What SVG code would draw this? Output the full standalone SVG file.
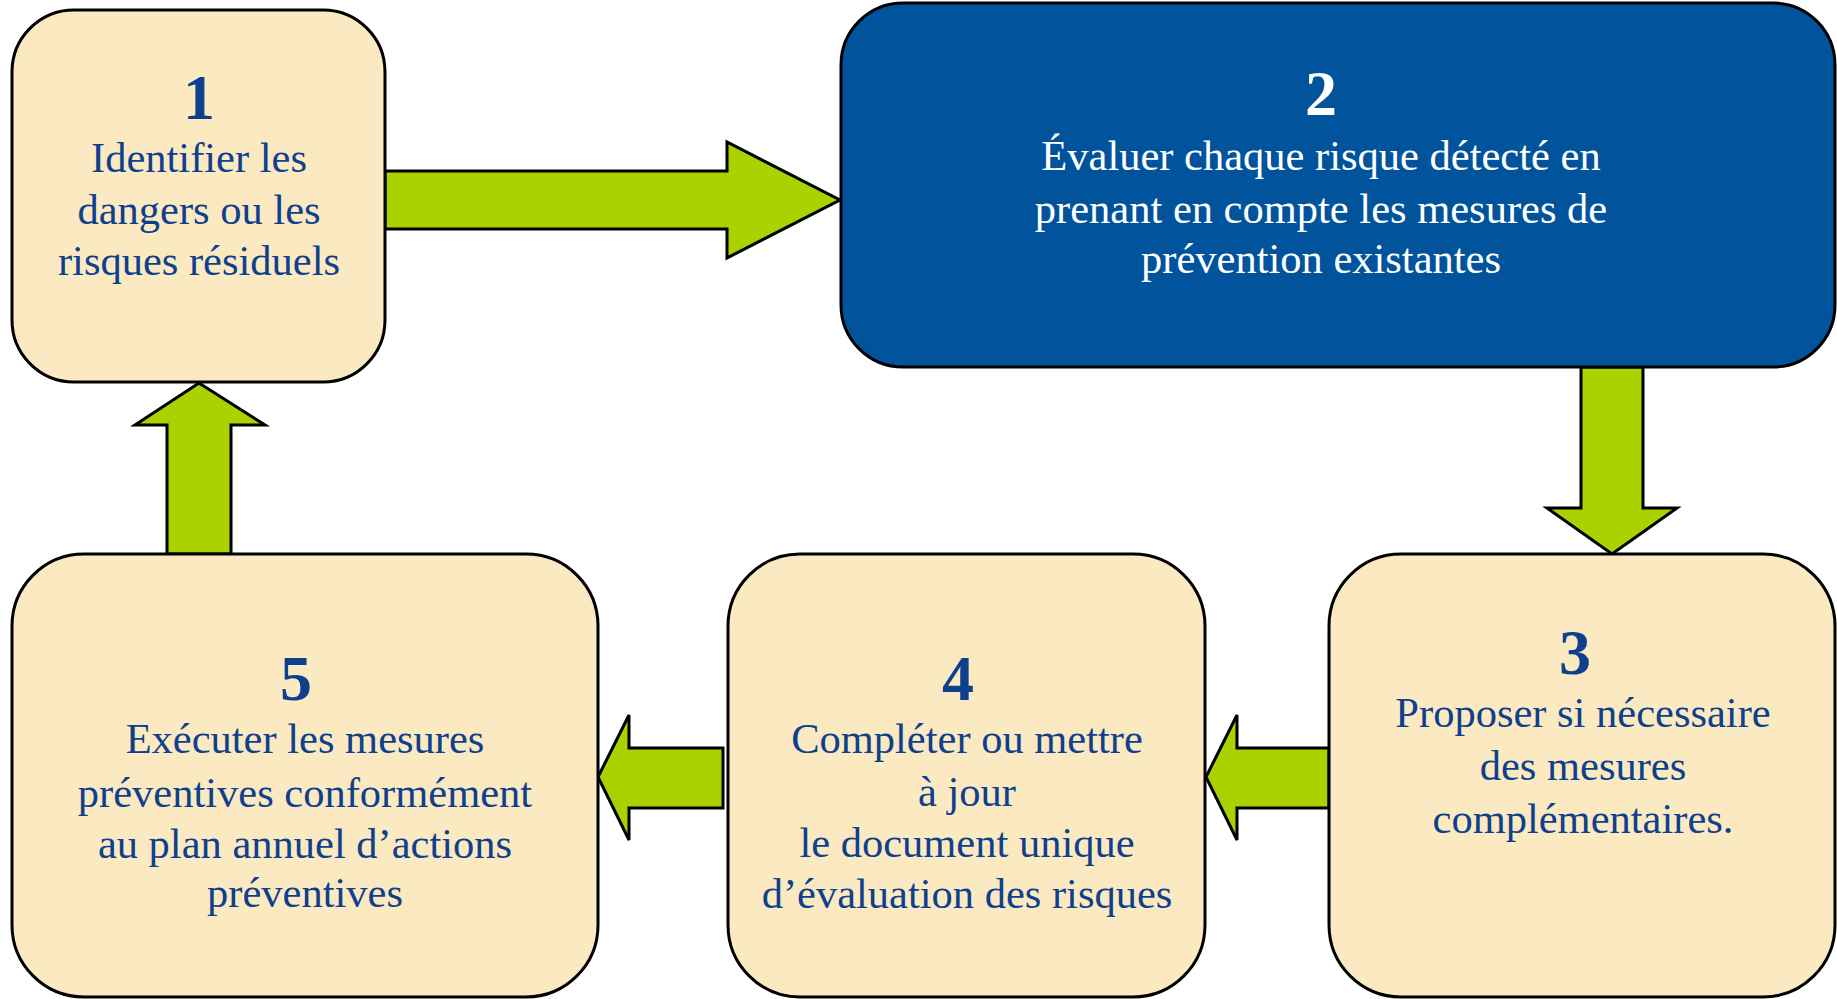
<svg xmlns="http://www.w3.org/2000/svg" width="1837" height="999" viewBox="0 0 1837 999">
  <style>
    .box { fill: #FBE9C1; stroke: #000; stroke-width: 3; }
    .boxblue { fill: #01549C; stroke: #000; stroke-width: 3; }
    .arrow { fill: #A9D200; stroke: #000; stroke-width: 3; stroke-linejoin: miter; }
    text { font-family: "Liberation Serif", "Times New Roman", serif; text-anchor: middle; }
    .num { font-size: 64px; font-weight: bold; fill: #0E408D; }
    .lbl { font-size: 42.5px; fill: #0E408D; }
    .w { fill: #FFFFFF; }
  </style>
  <rect width="1837" height="999" fill="#FFFFFF"/>
  <g id="connectors">
    <polygon class="arrow" points="385,171 727,171 727,142 840,200 727,258 727,229 385,229"/>
    <polygon class="arrow" points="1581,367 1643,367 1643,508 1677,508 1612,554 1547,508 1581,508"/>
    <polygon class="arrow" points="1329,748 1237,748 1237,715 1206,777 1237,840 1237,808 1329,808"/>
    <polygon class="arrow" points="723,748 629,748 629,715 598,777 629,840 629,808 723,808"/>
    <polygon class="arrow" points="167,554 167,425 135,425 199,383 265,425 231,425 231,554"/>
  </g>
  <g id="node1">
    <rect class="box" x="12" y="10" width="373" height="372" rx="62" ry="62"/>
    <text class="num" x="199" y="119">1</text>
    <text class="lbl" x="199" y="172">Identifier les</text>
    <text class="lbl" x="199" y="224">dangers ou les</text>
    <text class="lbl" x="199" y="275">risques résiduels</text>
  </g>
  <g id="node2">
    <rect class="boxblue" x="841" y="3" width="994" height="364" rx="62" ry="62"/>
    <text class="num w" x="1321" y="115">2</text>
    <text class="lbl w" x="1321" y="170">Évaluer chaque risque détecté en</text>
    <text class="lbl w" x="1321" y="223">prenant en compte les mesures de</text>
    <text class="lbl w" x="1321" y="273">prévention existantes</text>
  </g>
  <g id="node3">
    <rect class="box" x="1329" y="554" width="506" height="443" rx="72" ry="72"/>
    <text class="num" x="1575" y="674">3</text>
    <text class="lbl" x="1583" y="727">Proposer si nécessaire</text>
    <text class="lbl" x="1583" y="780">des mesures</text>
    <text class="lbl" x="1583" y="833">complémentaires.</text>
  </g>
  <g id="node4">
    <rect class="box" x="728" y="554" width="477" height="443" rx="72" ry="72"/>
    <text class="num" x="958" y="700">4</text>
    <text class="lbl" x="967" y="753">Compléter ou mettre</text>
    <text class="lbl" x="967" y="806">à jour</text>
    <text class="lbl" x="967" y="857">le document unique</text>
    <text class="lbl" x="967" y="908">d’évaluation des risques</text>
  </g>
  <g id="node5">
    <rect class="box" x="12" y="554" width="586" height="443" rx="72" ry="72"/>
    <text class="num" x="296" y="700">5</text>
    <text class="lbl" x="305" y="753">Exécuter les mesures</text>
    <text class="lbl" x="305" y="807">préventives conformément</text>
    <text class="lbl" x="305" y="858">au plan annuel d’actions</text>
    <text class="lbl" x="305" y="907">préventives</text>
  </g>
</svg>
